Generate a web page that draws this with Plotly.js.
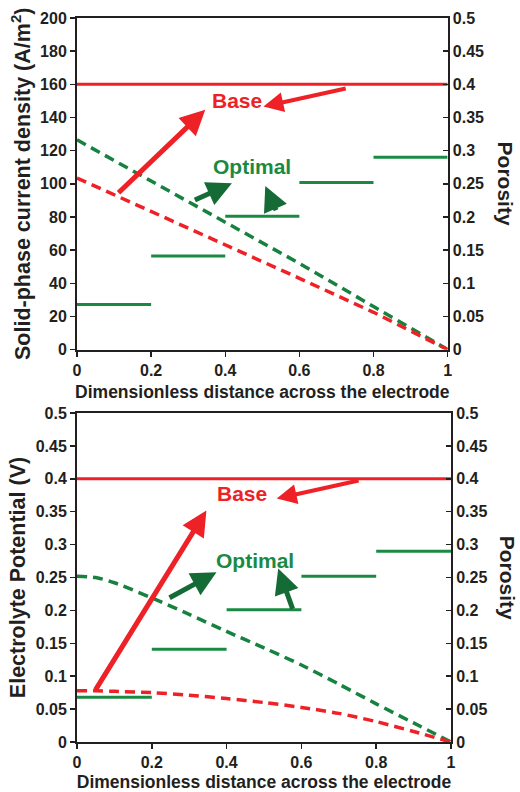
<!DOCTYPE html>
<html>
<head>
<meta charset="utf-8">
<script src="https://cdn.plot.ly/plotly-3.0.1.min.js"></script>
<style>html,body{margin:0;padding:0;background:#fff;}#chart{width:520px;height:792px;}</style>
</head>
<body>
<div id="chart"></div>
<script>
// ---------- data ----------
const xPos = [0, 0.2, 0.4, 0.6, 0.8, 1];
const solidOptimal = [126.5, 101.5, 76.5, 52, 26, 0];
const solidBase = [103.5, 83.5, 63.5, 43, 22.5, 0];

const xPot = [0, 0.05, 0.1, 0.2, 0.3, 0.4, 0.5, 0.6, 0.7, 0.8, 0.9, 1];
const potOptimal = [0.252, 0.250, 0.242, 0.219, 0.194, 0.168, 0.143, 0.117, 0.088, 0.058, 0.029, 0];
const potBase = [0.078, 0.0778, 0.077, 0.075, 0.071, 0.066, 0.060, 0.0526, 0.0435, 0.031, 0.016, 0];

const zoneEdges = [0, 0.2, 0.4, 0.6, 0.8, 1];
const porosityOptimal = [0.068, 0.141, 0.201, 0.252, 0.29];
const porosityBase = 0.4;

// tick values and labels
const xTickVals = [0, 0.2, 0.4, 0.6, 0.8, 1];
const xTickText = ['0', '0.2', '0.4', '0.6', '0.8', '1'];
const currentTickVals = [0, 20, 40, 60, 80, 100, 120, 140, 160, 180, 200];
const currentTickText = ['0', '20', '40', '60', '80', '100', '120', '140', '160', '180', '200'];
const halfTickVals = [0, 0.05, 0.1, 0.15, 0.2, 0.25, 0.3, 0.35, 0.4, 0.45, 0.5];
const halfTickText = ['0', '0.05', '0.1', '0.15', '0.2', '0.25', '0.3', '0.35', '0.4', '0.45', '0.5'];

const xTitle = 'Dimensionless distance across the electrode';
const yTitleTop = 'Solid-phase current density (A/m<sup>2</sup>)';
const yTitleBottom = 'Electrolyte Potential (V)';
const y2Title = 'Porosity';

// ---------- styles ----------
const RED = '#ee2127';
const GREEN = '#1a8a43';
const GREEN_DASH = '#17823f';
const DARK_GREEN = '#156b35';
const AX = '#231f20';
const FAM = '"Liberation Sans", Arial, Helvetica, sans-serif';
const DASH = '10px,6px';

const bold = arr => arr.map(t => '<b>' + t + '</b>');

function steps(edges, vals) {
  const xs = [], ys = [];
  vals.forEach((v, i) => { xs.push(edges[i], edges[i + 1], null); ys.push(v, v, null); });
  return {x: xs, y: ys};
}
const optSteps = steps(zoneEdges, porosityOptimal);

const traces = [
  // top subplot
  {x: [0, 1], y: [porosityBase, porosityBase], xaxis: 'x', yaxis: 'y2', mode: 'lines', line: {color: RED, width: 3}},
  {x: optSteps.x, y: optSteps.y, xaxis: 'x', yaxis: 'y2', mode: 'lines', line: {color: GREEN, width: 3}, connectgaps: false},
  {x: xPos, y: solidOptimal, xaxis: 'x', yaxis: 'y', mode: 'lines', line: {color: GREEN_DASH, width: 3.5, dash: DASH}},
  {x: xPos, y: solidBase, xaxis: 'x', yaxis: 'y', mode: 'lines', line: {color: RED, width: 3.5, dash: DASH}},
  // bottom subplot
  {x: [0, 1], y: [porosityBase, porosityBase], xaxis: 'x2', yaxis: 'y4', mode: 'lines', line: {color: RED, width: 3}},
  {x: optSteps.x, y: optSteps.y, xaxis: 'x2', yaxis: 'y4', mode: 'lines', line: {color: GREEN, width: 3}, connectgaps: false},
  {x: xPot, y: potOptimal, xaxis: 'x2', yaxis: 'y3', mode: 'lines', line: {color: GREEN_DASH, width: 3.5, dash: DASH, shape: 'spline', smoothing: 0.8}},
  {x: xPot, y: potBase, xaxis: 'x2', yaxis: 'y3', mode: 'lines', line: {color: RED, width: 3.5, dash: DASH, shape: 'spline', smoothing: 0.8}}
];

const tickFont = {family: FAM, size: 16, color: AX};

function xAxis(anchor, domain, title) {
  return {
    domain: domain, anchor: anchor, range: [0, 1], showgrid: false, zeroline: false,
    showline: true, linecolor: AX, linewidth: 2, mirror: true,
    ticks: 'outside', ticklen: 5, tickwidth: 1.5, tickcolor: AX,
    tickvals: xTickVals, ticktext: bold(xTickText), tickfont: tickFont,
    title: {text: '<b>' + title + '</b>', font: {family: FAM, size: 17.5, color: AX}, standoff: 8},
    automargin: false
  };
}
function topTicks(overlay, anchor, domain) {
  return {
    overlaying: overlay, anchor: anchor, domain: domain, side: 'top', range: [0, 1],
    showgrid: false, zeroline: false, showline: false, ticks: 'inside', ticklen: 5,
    tickwidth: 1.5, tickcolor: AX, tickvals: xTickVals, showticklabels: false
  };
}
function leftAxis(anchor, domain, range, vals, text, title) {
  return {
    domain: domain, anchor: anchor, range: range, tickvals: vals, ticktext: bold(text),
    showgrid: false, zeroline: false, showline: true, linecolor: AX, linewidth: 2,
    ticks: 'outside', ticklen: 5, tickwidth: 1.5, tickcolor: AX, tickfont: tickFont,
    title: {text: '<b>' + title + '</b>', font: {family: FAM, size: 21.5, color: AX}, standoff: 4},
    automargin: false
  };
}
function rightAxis(overlay, anchor, domain) {
  return {
    overlaying: overlay, anchor: anchor, domain: domain, side: 'right', range: [0, 0.5],
    tickvals: halfTickVals, ticktext: bold(halfTickText),
    showgrid: false, zeroline: false, showline: true, linecolor: AX, linewidth: 2,
    ticks: 'inside', ticklen: 5, tickwidth: 1.5, tickcolor: AX, tickfont: tickFont,
    automargin: false
  };
}

const topX = [0, 0.991];
const topY = [0.542, 1];
const botX = [0, 1];
const botY = [0, 0.4544];

function arrow(xref, yref, x, y, ax, ay, color, width) {
  return {xref: xref, yref: yref, axref: xref, ayref: yref, x: x, y: y, ax: ax, ay: ay,
    text: '', showarrow: true, arrowhead: 2, arrowsize: 1.0, arrowwidth: width, arrowcolor: color, standoff: 0, startstandoff: 0};
}
function label(xref, yref, x, y, text, color) {
  return {xref: xref, yref: yref, x: x, y: y, text: '<b>' + text + '</b>', showarrow: false, xanchor: 'center', yanchor: 'middle',
    font: {family: FAM, size: 21, color: color}};
}

const annotations = [
  // top
  label('x', 'y', 0.432, 150, 'Base', RED),
  label('x', 'y', 0.472, 110.5, 'Optimal', GREEN),
  arrow('x', 'y', 0.346, 144.6, 0.108, 93.7, RED, 5),
  arrow('x', 'y', 0.503, 146.6, 0.729, 157.7, RED, 4),
  arrow('x', 'y', 0.418, 100.3, 0.314, 89.8, DARK_GREEN, 5),
  arrow('x', 'y', 0.508, 98.7, 0.539, 83.1, DARK_GREEN, 5),
  // bottom
  label('x2', 'y3', 0.44, 0.377, 'Base', RED),
  label('x2', 'y3', 0.4755, 0.276, 'Optimal', GREEN),
  arrow('x2', 'y3', 0.346, 0.3517, 0.047, 0.077, RED, 5),
  arrow('x2', 'y3', 0.534, 0.370, 0.757, 0.398, RED, 4),
  arrow('x2', 'y3', 0.373, 0.258, 0.2435, 0.218, DARK_GREEN, 5),
  arrow('x2', 'y3', 0.538, 0.2635, 0.578, 0.200, DARK_GREEN, 5),
  // right-hand axis titles
  {xref: 'paper', yref: 'paper', x: 1.145, y: (topY[0] + topY[1]) / 2, text: '<b>' + y2Title + '</b>', textangle: 90, showarrow: false,
    xanchor: 'center', yanchor: 'middle', font: {family: FAM, size: 21, color: AX}},
  {xref: 'paper', yref: 'paper', x: 1.152, y: (botY[0] + botY[1]) / 2, text: '<b>' + y2Title + '</b>', textangle: 90, showarrow: false,
    xanchor: 'center', yanchor: 'middle', font: {family: FAM, size: 21, color: AX}}
];

const layout = {
  width: 520, height: 792,
  margin: {l: 77, r: 69, t: 18, b: 50},
  paper_bgcolor: '#fff', plot_bgcolor: '#fff',
  showlegend: false,
  font: {family: FAM, color: AX},
  xaxis: xAxis('y', topX, xTitle),
  yaxis: leftAxis('x', topY, [0, 200], currentTickVals, currentTickText, yTitleTop),
  yaxis2: rightAxis('y', 'x', topY),
  xaxis3: topTicks('x', 'y', topX),
  xaxis2: xAxis('y3', botX, xTitle),
  yaxis3: leftAxis('x2', botY, [0, 0.5], halfTickVals, halfTickText, yTitleBottom),
  yaxis4: rightAxis('y3', 'x2', botY),
  xaxis4: topTicks('x2', 'y3', botX),
  annotations: annotations
};

Plotly.newPlot('chart', traces, layout, {displayModeBar: false, staticPlot: true});
</script>
</body>
</html>
